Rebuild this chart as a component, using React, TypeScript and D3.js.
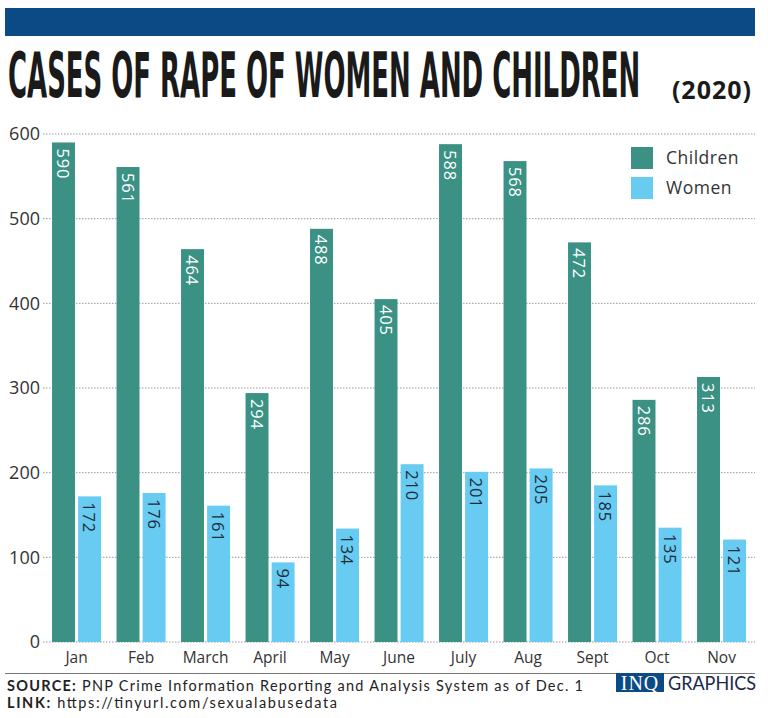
import React, { useLayoutEffect, useRef, useState } from "react";
import * as d3 from "d3";

const months = ["Jan", "Feb", "March", "April", "May", "June", "July", "Aug", "Sept", "Oct", "Nov"];
const children = [590, 561, 464, 294, 488, 405, 588, 568, 472, 286, 313];
const women = [172, 176, 161, 94, 134, 210, 201, 205, 185, 135, 121];
const seriesNames = ["Children", "Women"];
const yTicks = [0, 100, 200, 300, 400, 500, 600];

const W = 768, H = 718;
const TEAL = "#3a9184";
const BLUE = "#67cbf2";
const FONT = "'Open Sans', Lato, sans-serif";

export default function App() {
  const titleRef = useRef<SVGTextElement>(null);
  const [sx, setSx] = useState(0.5);
  useLayoutEffect(() => {
    if (titleRef.current) {
      const w = titleRef.current.getComputedTextLength();
      if (w > 0) setSx(632 / w);
    }
  }, []);

  const y = d3.scaleLinear().domain([0, 600]).range([642, 134]);
  const x = d3.scaleBand<string>().domain(months).range([44.3, 753.8]).paddingInner(0.24).paddingOuter(0.12);
  const xi = d3.scaleBand<string>().domain(seriesNames).range([0, x.bandwidth()]).paddingInner(0.12);
  const color = d3.scaleOrdinal<string, string>().domain(seriesNames).range([TEAL, BLUE]);
  const data = months.map((m, i) => ({ m, vals: [children[i], women[i]] }));

  return (
    <svg width={W} height={H} style={{ position: "absolute", left: 0, top: 0, background: "#fff" }}>
      <rect x={5} y={8} width={750} height={28} fill="#0b4a85" />
      <text ref={titleRef} transform={`translate(8,97) scale(${sx},1.72)`} fontFamily="'DejaVu Sans Condensed', sans-serif" fontWeight="bold"
        fontSize={36} fill="#1a1a1a">CASES OF RAPE OF WOMEN AND CHILDREN</text>
      <text x={752} y={99} textAnchor="end" fontFamily={FONT} fontWeight="bold" fontSize={25} fill="#1a1a1a" letterSpacing={1}>(2020)</text>

      {yTicks.map(t => (
        <g key={t}>
          <line x1={43} x2={755} y1={y(t)} y2={y(t)} stroke="#999" strokeDasharray="1.5,1.5" strokeWidth={1} />
          <text x={40} y={y(t)} dy="0.35em" textAnchor="end" fontFamily={FONT} fontSize={18} fill="#333">{t}</text>
        </g>
      ))}

      {data.map(d => (
        <g key={d.m} transform={`translate(${x(d.m)},0)`}>
          {seriesNames.map((s, j) => {
            const v = d.vals[j];
            const bx = xi(s)!;
            const bw = xi.bandwidth();
            return (
              <g key={s}>
                <rect x={bx} y={y(v)} width={bw} height={y(0) - y(v)} fill={color(s)} />
                <text transform={`translate(${bx + bw / 2},${y(v) + 6}) rotate(90)`} dominantBaseline="central"
                  fontFamily={FONT} fontSize={16.5} letterSpacing={0.8} fill={j === 0 ? "#fff" : "#1f2d3a"}>{v}</text>
              </g>
            );
          })}
          <text x={x.bandwidth() / 2} y={663} textAnchor="middle" fontFamily={FONT} fontSize={15.5} fill="#333">{d.m}</text>
        </g>
      ))}

      {seriesNames.map((s, i) => (
        <g key={s} transform={`translate(631,${147 + i * 30})`}>
          <rect width={22} height={22} fill={color(s)} />
          <text x={35} y={11} dy="0.35em" fontFamily={FONT} fontSize={17.5} letterSpacing={0.5} fill="#333">{s}</text>
        </g>
      ))}

      <line x1={5} x2={755} y1={673.5} y2={673.5} stroke="#777" strokeWidth={1} />
      <text x={7} y={691} fontFamily="Lato, sans-serif" fontSize={14.5} fill="#222" textLength={576} lengthAdjust="spacing">
        <tspan fontWeight="bold">SOURCE:</tspan> PNP Crime Information Reporting and Analysis System as of Dec. 1
      </text>
      <text x={7} y={708} fontFamily="Lato, sans-serif" fontSize={14.5} fill="#222" textLength={330} lengthAdjust="spacing">
        <tspan fontWeight="bold">LINK:</tspan> https://tinyurl.com/sexualabusedata
      </text>
      <rect x={616} y={673} width={48} height={19} fill="#0b4a85" />
      <text x={640} y={690} textAnchor="middle" fontFamily="'Liberation Serif', serif" fontSize={20} fill="#fff" letterSpacing={1}>INQ</text>
      <text x={668} y={690} fontFamily="Lato, sans-serif" fontSize={20} fill="#1b2a4a" textLength={88} lengthAdjust="spacingAndGlyphs">GRAPHICS</text>
    </svg>
  );
}
